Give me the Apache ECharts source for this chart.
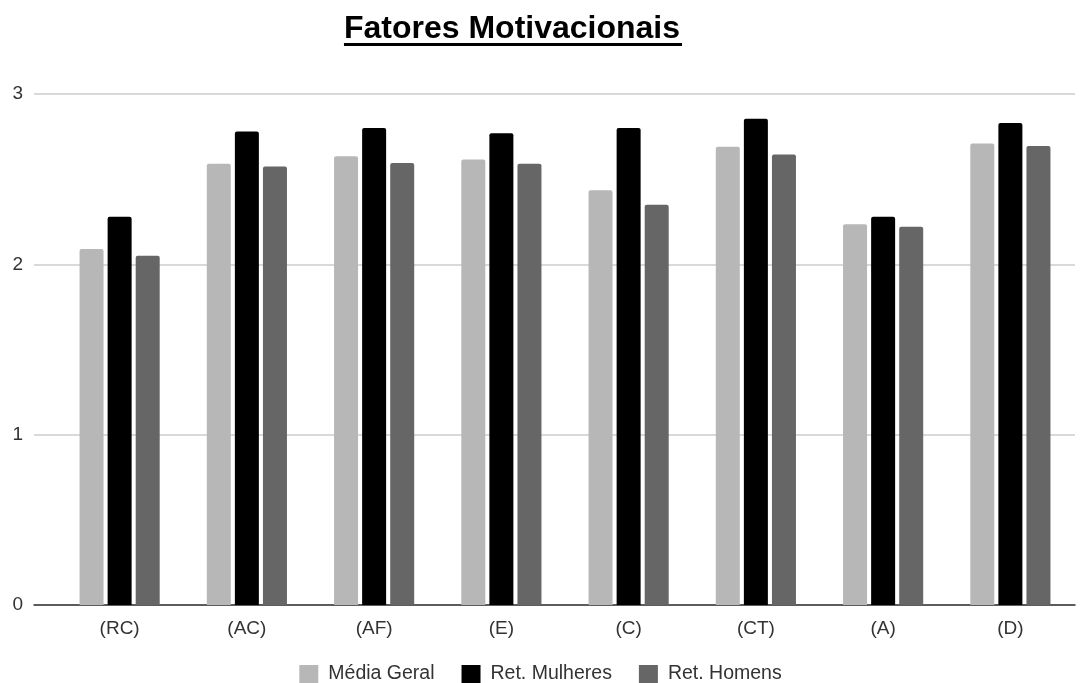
<!DOCTYPE html>
<html>
<head>
<meta charset="utf-8">
<script src="https://cdn.jsdelivr.net/npm/echarts@6/dist/echarts.min.js"></script>
<style>
  html, body { margin: 0; padding: 0; background: #ffffff; }
  #chart { width: 1081px; height: 683px; }
</style>
</head>
<body>
<div id="chart"></div>
<script>
// Fatores motivacionais: média geral e retorno por sexo
const titleText = 'Fatores Motivacionais';
const categories = ['(RC)', '(AC)', '(AF)', '(E)', '(C)', '(CT)', '(A)', '(D)'];
const seriesNames = ['Média Geral', 'Ret. Mulheres', 'Ret. Homens'];
const mediaGeral   = [2.09, 2.59, 2.635, 2.615, 2.435, 2.69, 2.235, 2.71];
const retMulheres  = [2.28, 2.78, 2.80, 2.77, 2.80, 2.855, 2.28, 2.83];
const retHomens    = [2.05, 2.575, 2.595, 2.59, 2.35, 2.645, 2.22, 2.695];
const yTicks = [0, 1, 2, 3];

const colors = ['#b7b7b7', '#000000', '#666666'];
const fontFamily = '"Liberation Sans", Arial, Helvetica, sans-serif';

// width of the title, for the underline
const titleFont = 'bold 32px ' + fontFamily;
const measureCtx = document.createElement('canvas').getContext('2d');
measureCtx.font = titleFont;
const titleWidth = measureCtx.measureText(titleText).width;

const chart = echarts.init(document.getElementById('chart'), null, { renderer: 'canvas' });

const values = [mediaGeral, retMulheres, retHomens];

const option = {
  backgroundColor: '#ffffff',
  animation: false,
  color: colors,
  grid: [
    // frame grid: gridlines, y labels, baseline
    { left: 34, right: 6, top: 94, bottom: 78 },
    // bars
    { left: 56, right: 7, top: 94, bottom: 78 }
  ],
  xAxis: [
    {
      gridIndex: 0, type: 'value', min: 0, max: 1,
      axisLine: { show: true, lineStyle: { color: '#333333', width: 1.5 } },
      axisTick: { show: false }, axisLabel: { show: false }, splitLine: { show: false }
    },
    {
      gridIndex: 1, type: 'category', data: categories,
      axisLine: { show: false }, axisTick: { show: false },
      axisLabel: { color: '#333333', fontSize: 19, fontFamily: fontFamily, margin: 14 }
    }
  ],
  yAxis: [
    {
      gridIndex: 0, type: 'value', min: yTicks[0], max: yTicks[yTicks.length - 1], interval: 1,
      axisLine: { show: false }, axisTick: { show: false },
      axisLabel: { color: '#333333', fontSize: 19, fontFamily: fontFamily, margin: 11 },
      splitLine: { show: true, lineStyle: { color: '#cccccc', width: 1.5 } }
    },
    {
      gridIndex: 1, type: 'value', min: yTicks[0], max: yTicks[yTicks.length - 1], interval: 1,
      show: false, splitLine: { show: false }
    }
  ],
  legend: {
    data: seriesNames,
    left: 'center',
    top: 659,
    icon: 'rect',
    itemWidth: 19,
    itemHeight: 18,
    itemGap: 27,
    textStyle: { color: '#333333', fontSize: 19.5, fontFamily: fontFamily, padding: [0, 0, 0, 5] }
  },
  graphic: [
    {
      type: 'group',
      x: 512, y: 0,
      children: [
        {
          type: 'text',
          x: 0, y: 29,
          style: {
            text: titleText, font: titleFont, fill: '#000000',
            textAlign: 'center', textVerticalAlign: 'middle'
          }
        },
        {
          type: 'rect',
          shape: { x: -titleWidth / 2, y: 43, width: titleWidth + 2, height: 3 },
          style: { fill: '#000000' }
        }
      ]
    }
  ],
  series: seriesNames.map((name, i) => ({
    name: name,
    type: 'bar',
    xAxisIndex: 1,
    yAxisIndex: 1,
    data: values[i],
    barWidth: 24,
    barGap: '17%',
    itemStyle: { color: colors[i], borderRadius: [2, 2, 0, 0] }
  }))
};

chart.setOption(option);
</script>
</body>
</html>
